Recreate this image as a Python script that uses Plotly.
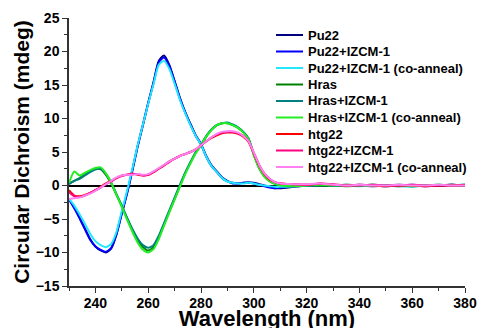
import plotly.graph_objects as go

wavelength = [230, 232, 234, 236, 238, 240, 242, 244, 246, 248,
              250, 252, 254, 256, 258, 260, 262, 264, 266, 268,
              270, 272, 274, 276, 278, 280, 282, 284, 286, 288,
              290, 292, 294, 296, 298, 300, 302, 304, 306, 308,
              310, 315, 320, 325, 330, 335, 340, 345, 350, 355,
              360, 365, 370, 375, 380]

pu22 = [-2.0, -3.3, -4.8, -6.4, -8.0, -9.1, -9.7, -10.0, -9.4, -7.3,
        -4.2, -1.2, 2.2, 5.8, 9.0, 12.3, 15.4, 18.6, 19.4, 18.0,
        15.6, 13.1, 11.0, 9.2, 7.5, 6.2, 4.4, 3.0, 2.1, 1.2,
        0.7, 0.4, 0.3, 0.4, 0.5, 0.4, 0.2, 0.0, -0.2, -0.4,
        -0.4, -0.2, 0.0, 0.1, 0.0, 0.1, 0.0, -0.1, 0.0, 0.1,
        0.0, -0.1, 0.0, 0.1, 0.0]

pu22_izcm = [-2.1, -3.4, -4.9, -6.5, -8.1, -9.1, -9.6, -9.9, -9.3, -7.2,
             -4.1, -1.1, 2.3, 5.9, 9.1, 12.3, 15.3, 18.4, 19.1, 17.8,
             15.5, 13.0, 10.9, 9.1, 7.4, 6.1, 4.3, 2.9, 2.0, 1.1,
             0.6, 0.3, 0.3, 0.4, 0.4, 0.3, 0.1, -0.1, -0.3, -0.4,
             -0.3, -0.1, 0.0, 0.1, 0.0, 0.0, 0.1, 0.0, -0.1, 0.0,
             0.1, 0.0, 0.0, 0.1, 0.0]

pu22_izcm_co = [-2.0, -3.0, -4.3, -5.7, -7.2, -8.3, -8.9, -9.2, -8.7, -6.9,
                -3.8, -0.8, 2.5, 6.0, 9.1, 12.2, 15.1, 18.0, 18.6, 17.4,
                15.2, 12.8, 10.8, 9.0, 7.4, 6.1, 4.3, 2.9, 2.0, 1.1,
                0.6, 0.4, 0.3, 0.3, 0.4, 0.3, 0.1, 0.0, -0.1, -0.2,
                -0.2, -0.1, 0.0, 0.0, 0.1, 0.0, -0.1, 0.0, 0.0, -0.1,
                -0.2, 0.0, 0.1, 0.0, 0.2]

hras = [0.3, 0.7, 1.1, 1.6, 2.1, 2.5, 2.4, 1.6, 0.3, -1.4,
        -3.1, -4.9, -6.6, -8.1, -9.2, -9.7, -9.2, -7.8, -5.8, -3.9,
        -2.0, -0.1, 1.8, 3.4, 4.9, 6.0, 7.3, 8.3, 9.0, 9.3,
        9.3, 9.0, 8.6, 8.0, 7.0, 4.6, 2.6, 1.4, 0.7, 0.3,
        0.1, 0.0, 0.1, 0.0, 0.0, -0.1, 0.0, 0.1, 0.0, 0.0,
        -0.1, 0.0, 0.0, 0.1, 0.0]

hras_izcm = [0.2, 0.7, 1.0, 1.5, 2.0, 2.4, 2.5, 1.7, 0.4, -1.3,
             -3.0, -4.8, -6.5, -7.9, -8.9, -9.3, -8.9, -7.5, -5.6, -3.7,
             -1.8, 0.1, 1.9, 3.5, 5.0, 6.1, 7.4, 8.4, 9.0, 9.3,
             9.4, 9.1, 8.7, 8.0, 7.0, 4.7, 2.7, 1.5, 0.7, 0.3,
             0.1, 0.0, 0.0, 0.1, 0.0, 0.0, 0.0, 0.1, 0.0, -0.1,
             0.0, 0.0, 0.1, 0.0, 0.0]

hras_izcm_co = [0.4, 2.1, 1.5, 1.9, 2.3, 2.6, 2.7, 1.8, 0.4, -1.4,
                -3.2, -5.1, -6.9, -8.5, -9.6, -10.0, -9.5, -8.0, -6.0, -4.0,
                -2.1, -0.2, 1.7, 3.3, 4.8, 6.0, 7.3, 8.3, 9.0, 9.3,
                9.3, 9.0, 8.6, 7.9, 6.9, 4.5, 2.6, 1.3, 0.6, 0.2,
                0.0, -0.1, 0.0, 0.1, 0.0, 0.1, 0.0, 0.0, -0.1, 0.0,
                -0.1, 0.0, 0.1, 0.0, 0.0]

htg22 = [-0.7, -1.5, -1.6, -1.4, -1.1, -0.7, -0.2, 0.3, 0.7, 1.1,
         1.5, 1.6, 1.8, 1.6, 1.5, 1.6, 2.0, 2.5, 3.0, 3.6,
         4.0, 4.4, 4.7, 5.0, 5.4, 6.0, 6.6, 7.1, 7.5, 7.8,
         7.9, 7.9, 7.7, 7.3, 6.5, 4.8, 3.0, 1.7, 0.9, 0.5,
         0.3, 0.2, 0.1, 0.3, 0.1, 0.0, 0.1, 0.0, -0.1, 0.0,
         0.0, -0.1, 0.0, 0.0, 0.1]

htg22_izcm = [-1.0, -1.6, -1.7, -1.5, -1.1, -0.7, -0.3, 0.2, 0.6, 1.1,
              1.4, 1.6, 1.7, 1.7, 1.5, 1.6, 2.0, 2.5, 3.0, 3.5,
              4.0, 4.4, 4.7, 5.0, 5.4, 6.0, 6.6, 7.2, 7.6, 7.9,
              8.0, 8.0, 7.8, 7.4, 6.6, 4.9, 3.1, 1.8, 1.0, 0.5,
              0.3, 0.2, 0.1, 0.3, 0.2, 0.0, 0.0, 0.1, 0.0, 0.0,
              0.1, 0.0, 0.0, 0.0, 0.0]

htg22_izcm_co = [-2.0, -1.9, -1.8, -1.5, -1.2, -0.8, -0.3, 0.2, 0.7, 1.2,
                 1.5, 1.6, 1.6, 1.7, 1.6, 1.7, 2.1, 2.6, 3.1, 3.6,
                 4.0, 4.4, 4.7, 5.0, 5.4, 6.0, 6.6, 7.2, 7.7, 8.0,
                 8.1, 8.1, 7.9, 7.4, 6.6, 4.9, 3.1, 1.8, 1.0, 0.5,
                 0.3, 0.2, 0.2, 0.3, 0.1, 0.0, 0.1, 0.0, 0.0, 0.1,
                 0.0, 0.0, 0.1, 0.0, 0.0]

names = ["Pu22", "Pu22+IZCM-1", "Pu22+IZCM-1 (co-anneal)",
         "Hras", "Hras+IZCM-1", "Hras+IZCM-1 (co-anneal)",
         "htg22", "htg22+IZCM-1", "htg22+IZCM-1 (co-anneal)"]
series = [pu22, pu22_izcm, pu22_izcm_co, hras, hras_izcm, hras_izcm_co,
          htg22, htg22_izcm, htg22_izcm_co]
colors = ["#000080", "#0000FF", "#22E8FF", "#008000", "#008080", "#22EE22",
          "#FF0000", "#FF0080", "#FF80F0"]

fig = go.Figure()
for name, vals, col in zip(names, series, colors):
    fig.add_trace(go.Scatter(x=wavelength, y=vals, name=name, mode="lines",
                             showlegend=False, hoverinfo="skip",
                             line=dict(color=col, width=2, shape="spline", smoothing=0.6)))

# Figure is a little taller than the 328px window so the x title's
# descenders are clipped at the bottom edge, as in the reference.
W, H = 478, 331
ML, MR, MT, MB = 69, 13, 18, 45
pw, ph = W - ML - MR, H - MT - MB
leg_top_px, leg_step_px = 35, 16.5
line_x0_px, line_x1_px, text_x_px = 276, 303, 306
for i, (name, col) in enumerate(zip(names, colors)):
    ypx = leg_top_px + i * leg_step_px
    yp = (H - MB - ypx) / ph
    fig.add_shape(type="line", xref="paper", yref="paper",
                  x0=(line_x0_px - ML) / pw, x1=(line_x1_px - ML) / pw, y0=yp, y1=yp,
                  line=dict(color=col, width=2))
    fig.add_annotation(xref="paper", yref="paper", x=(text_x_px - ML) / pw, y=yp,
                       xanchor="left", yanchor="middle", text=name, showarrow=False,
                       font=dict(size=13, weight="bold", color="black"))

font_family = "Liberation Sans, Arial, sans-serif"
fig.update_layout(
    width=W, height=H,
    margin=dict(l=ML, r=MR, t=MT, b=MB),
    paper_bgcolor="white", plot_bgcolor="white",
    font=dict(family=font_family, color="black"),
    showlegend=False,
    xaxis=dict(range=[230, 380], dtick=20, tick0=240, automargin=False,
               showline=True, linecolor="#333", linewidth=1.5,
               ticks="outside", ticklen=5, tickwidth=1.2, tickcolor="#333",
               minor=dict(dtick=10, ticks="outside", ticklen=3, tickcolor="#333"),
               showgrid=False, zeroline=False, ticklabelstandoff=-2,
               tickfont=dict(size=14, weight="bold"),
               title=dict(text="Wavelength (nm)", font=dict(size=22, weight="bold"), standoff=0)),
    yaxis=dict(range=[-15, 25], dtick=5, automargin=False,
               showline=True, linecolor="#333", linewidth=1.5,
               ticks="outside", ticklen=5, tickwidth=1.2, tickcolor="#333",
               minor=dict(dtick=2.5, ticks="outside", ticklen=3, tickcolor="#333"),
               showgrid=False, zeroline=True, zerolinecolor="black", zerolinewidth=1.5,
               tickfont=dict(size=14, weight="bold"),
               title=dict(text="Circular Dichroism (mdeg)", font=dict(size=21, weight="bold"), standoff=0)),
)

fig.write_html("out.html", config={"displayModeBar": False},
               post_script="document.body.style.margin='0px';document.body.style.overflow='hidden';")
